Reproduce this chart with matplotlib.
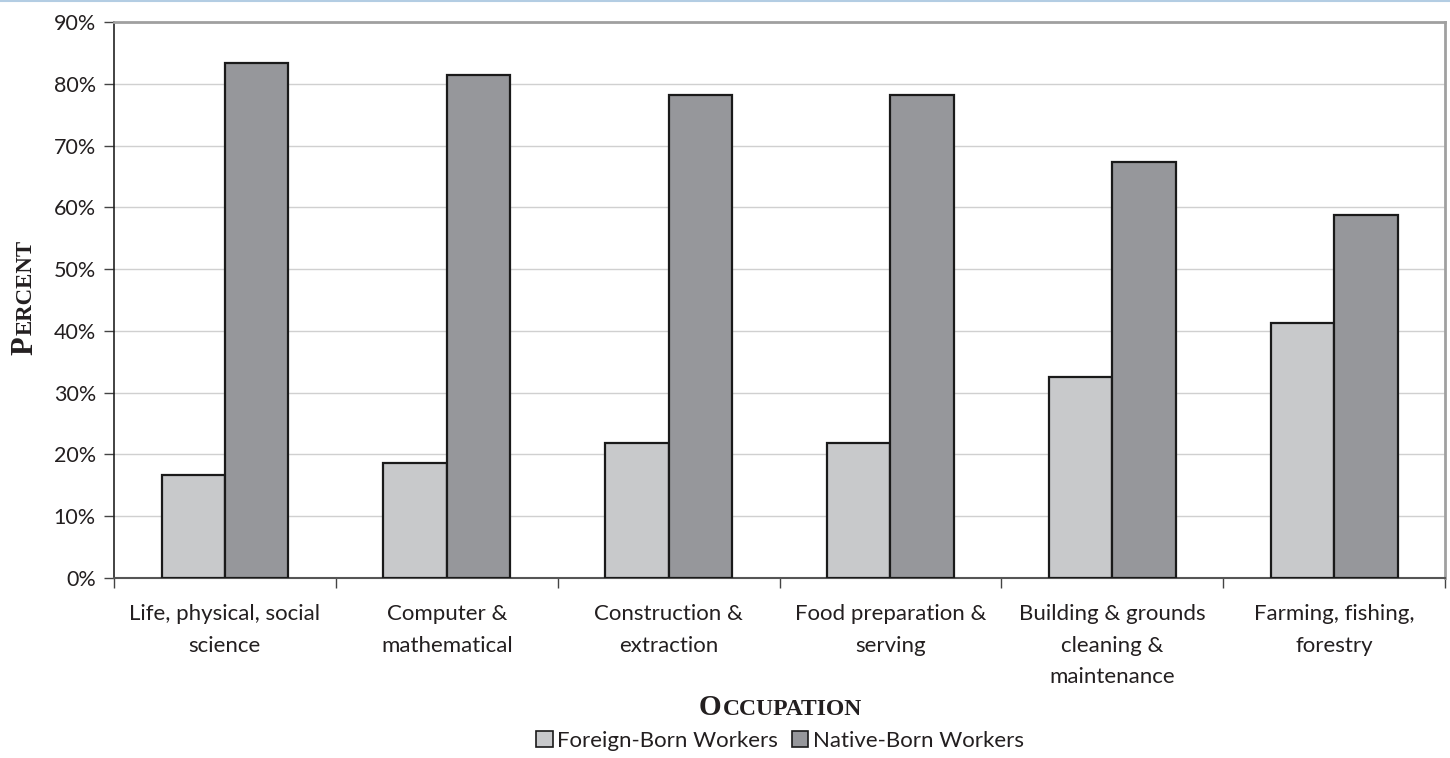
import numpy as np
import matplotlib.pyplot as plt
from matplotlib.patches import Patch
from matplotlib.lines import Line2D

categories = ["Life, physical, social\nscience", "Computer &\nmathematical",
              "Construction &\nextraction", "Food preparation &\nserving",
              "Building & grounds\ncleaning &\nmaintenance", "Farming, fishing,\nforestry"]
foreign = [16.7, 18.6, 21.8, 21.8, 32.6, 41.3]
native = [83.3, 81.4, 78.2, 78.2, 67.4, 58.7]
yticks = [0, 10, 20, 30, 40, 50, 60, 70, 80, 90]

plt.rcParams['font.family'] = ['Lato', 'DejaVu Sans']
txt = '#231f20'

fig = plt.figure(figsize=(14.5, 7.58), dpi=100)
ax = fig.add_axes([0.0786, 0.2375, 0.918, 0.7335])

x = np.arange(len(categories))
w = 0.2857
ax.bar(x - w/2, foreign, w, color='#c8c9cb', edgecolor='#1a1a1a', linewidth=1.6, zorder=3)
ax.bar(x + w/2, native, w, color='#96979b', edgecolor='#1a1a1a', linewidth=1.6, zorder=3)

ax.set_xlim(-0.5, len(categories) - 0.5)
ax.set_ylim(0, 90)
ax.set_yticks(yticks)
ax.set_yticklabels([f"{v}%" for v in yticks], fontsize=15.5, color=txt)
ax.set_xticks(x)
ax.set_xticklabels(categories, fontsize=16, color=txt, linespacing=1.7)
ax.tick_params(axis='x', length=0, pad=19)
ax.set_xticks(np.arange(len(categories) + 1) - 0.5, minor=True)
ax.tick_params(axis='x', which='minor', length=7, width=1, color='#444444')
ax.tick_params(axis='y', length=7, width=1, color='#444444', pad=6)
ax.grid(axis='y', color='#d0d0d0', linewidth=1, zorder=0)

ax.spines['left'].set_color('#222222')
ax.spines['left'].set_linewidth(1.2)
ax.spines['bottom'].set_color('#555555')
ax.spines['bottom'].set_linewidth(1.5)
ax.spines['top'].set_color('#a0a0a0')
ax.spines['top'].set_linewidth(2)
ax.spines['right'].set_color('#a0a0a0')
ax.spines['right'].set_linewidth(2)

# small caps titles: big first letter + smaller rest
renderer = fig.canvas.get_renderer()
W, H = fig.get_size_inches() * fig.dpi


def smallcaps(word, cx, cy, big, small, vertical=False):
    rot = 90 if vertical else 0
    kw = dict(family='Liberation Serif', fontweight='bold', color=txt,
              rotation=rot, rotation_mode='anchor', ha='left', va='baseline')
    t1 = fig.text(0, 0, word[0], fontsize=big, **kw)
    t2 = fig.text(0, 0, word[1:], fontsize=small, **kw)
    e1 = t1.get_window_extent(renderer)
    e2 = t2.get_window_extent(renderer)
    if vertical:
        l1, l2 = e1.height, e2.height
        start = cy * H - (l1 + l2) / 2
        t1.set_position((cx, start / H))
        t2.set_position((cx, (start + l1 + 1) / H))
    else:
        l1, l2 = e1.width, e2.width
        start = cx * W - (l1 + l2) / 2
        t1.set_position((start / W, cy))
        t2.set_position(((start + l1 + 1) / W, cy))


smallcaps("PERCENT", 32 / W, 1 - 298 / H, 22, 16.5, vertical=True)
smallcaps("OCCUPATION", 780 / W, 1 - 715 / H, 21, 17)

handles = [Patch(facecolor='#c8c9cb', edgecolor='#1a1a1a', linewidth=1.2),
           Patch(facecolor='#96979b', edgecolor='#1a1a1a', linewidth=1.2)]
fig.legend(handles, ["Foreign-Born Workers", "Native-Born Workers"], ncol=2,
           loc='center', bbox_to_anchor=(780 / W, 1 - 741 / H), frameon=False,
           fontsize=16, handlelength=0.75, handleheight=0.75, handletextpad=0.2,
           columnspacing=0.6, labelcolor=txt, borderpad=0)

fig.add_artist(Line2D([0, 1], [0.999, 0.999], color='#b3cde3', linewidth=1.5,
                      transform=fig.transFigure))

plt.savefig("out.png", dpi=100)
